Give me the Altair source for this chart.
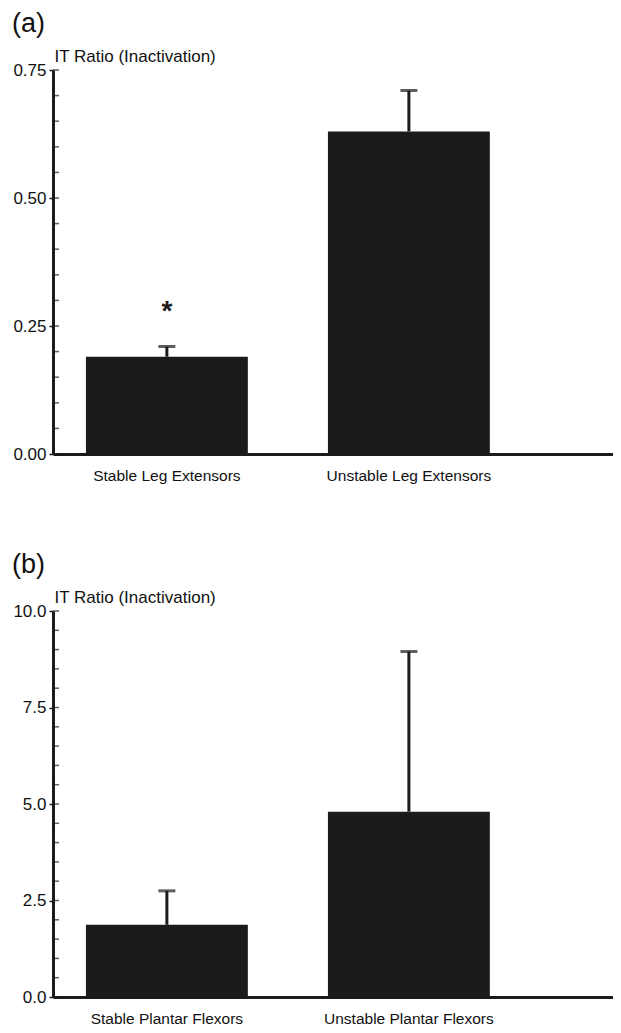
import altair as alt
import pandas as pd

# Panel (a)
cats_a = ["Stable Leg Extensors", "Unstable Leg Extensors"]
means_a = [0.19, 0.63]
upper_a = [0.21, 0.71]
sig_a = ["*", ""]
sig_y_a = [0.262, None]
major_a = [0.0, 0.25, 0.5, 0.75]
minor_a = [0.0, 0.05, 0.1, 0.15, 0.2, 0.25, 0.3, 0.35, 0.4, 0.45, 0.5, 0.55, 0.6, 0.65, 0.7, 0.75]

# Panel (b)
cats_b = ["Stable Plantar Flexors", "Unstable Plantar Flexors"]
means_b = [1.87, 4.80]
upper_b = [2.75, 8.95]
major_b = [0.0, 2.5, 5.0, 7.5, 10.0]
minor_b = [0.0, 0.5, 1.0, 1.5, 2.0, 2.5, 3.0, 3.5, 4.0, 4.5, 5.0, 5.5, 6.0, 6.5, 7.0, 7.5, 8.0, 8.5, 9.0, 9.5, 10.0]

W = 560
INK = "#1b1b1b"
FONT = "Liberation Sans"


def panel(label, cats, means, upper, ymax, major, minor, fmt, height, sig=None, sig_y=None):
    df = pd.DataFrame({"cat": cats, "mean": means, "upper": upper})
    xenc = alt.X(
        "cat:N", sort=cats, title=None,
        scale=alt.Scale(paddingInner=0.331, paddingOuter=0.3225, align=0.211),
        axis=alt.Axis(labelAngle=0, labelFontSize=15.5, labelPadding=14, ticks=False,
                      domainWidth=3, domainColor=INK, labelColor="#111111"),
    )
    yscale = alt.Scale(domain=[0, ymax], nice=False, zero=True)
    base = alt.Chart(df)
    bars = base.mark_bar(color=INK).encode(
        x=xenc,
        y=alt.Y("mean:Q", scale=yscale, title="IT Ratio (Inactivation)",
                axis=alt.Axis(values=major, format=fmt, grid=False, domainWidth=3, domainColor=INK,
                              tickSize=4, tickWidth=1.5, tickColor=INK, labelFontSize=17,
                              labelColor="#111111", labelPadding=3,
                              titleAngle=0, titleAlign="left", titleBaseline="alphabetic",
                              titleX=1, titleY=-9, titleFontSize=17, titleFontWeight="normal",
                              titleColor="#111111")),
    )
    rule = base.mark_rule(color=INK, strokeWidth=3).encode(
        x=xenc, y=alt.Y("mean:Q", scale=yscale), y2="upper:Q",
    )
    cap = base.mark_tick(color=INK, size=17, thickness=3).encode(
        x=xenc, y=alt.Y("upper:Q", scale=yscale))
    mdf = pd.DataFrame({"v": minor})
    minor_ticks = alt.Chart(mdf).mark_tick(color=INK, size=6, thickness=1.5).encode(
        x=alt.value(3), y=alt.Y("v:Q", scale=yscale))
    layers = [bars, rule, cap, minor_ticks]
    if sig is not None:
        sdf = pd.DataFrame({"cat": cats, "sig": sig, "sy": sig_y}).dropna()
        txt = alt.Chart(sdf).mark_text(fontSize=28, fontWeight="bold", baseline="alphabetic",
                                       color=INK).encode(
            x=xenc, y=alt.Y("sy:Q", scale=yscale), text="sig:N")
        layers.append(txt)
    return alt.layer(*layers).properties(
        width=W, height=height,
        title=alt.TitleParams(label, anchor="start", frame="bounds", fontSize=27,
                              fontWeight="normal", color="#111111", dx=-1, offset=9),
    )


pa = panel("(a)", cats_a, means_a, upper_a, 0.75, major_a, minor_a, ".2f", 384, sig_a, sig_y_a)
pb = panel("(b)", cats_b, means_b, upper_b, 10.0, major_b, minor_b, ".1f", 386)

chart = alt.vconcat(pa, pb, spacing=67).configure(
    font=FONT, padding={"left": 3, "top": 2, "right": 0, "bottom": 0}
).configure_view(stroke=None)

chart.save("out.html", embed_options={"renderer": "svg", "actions": False})
